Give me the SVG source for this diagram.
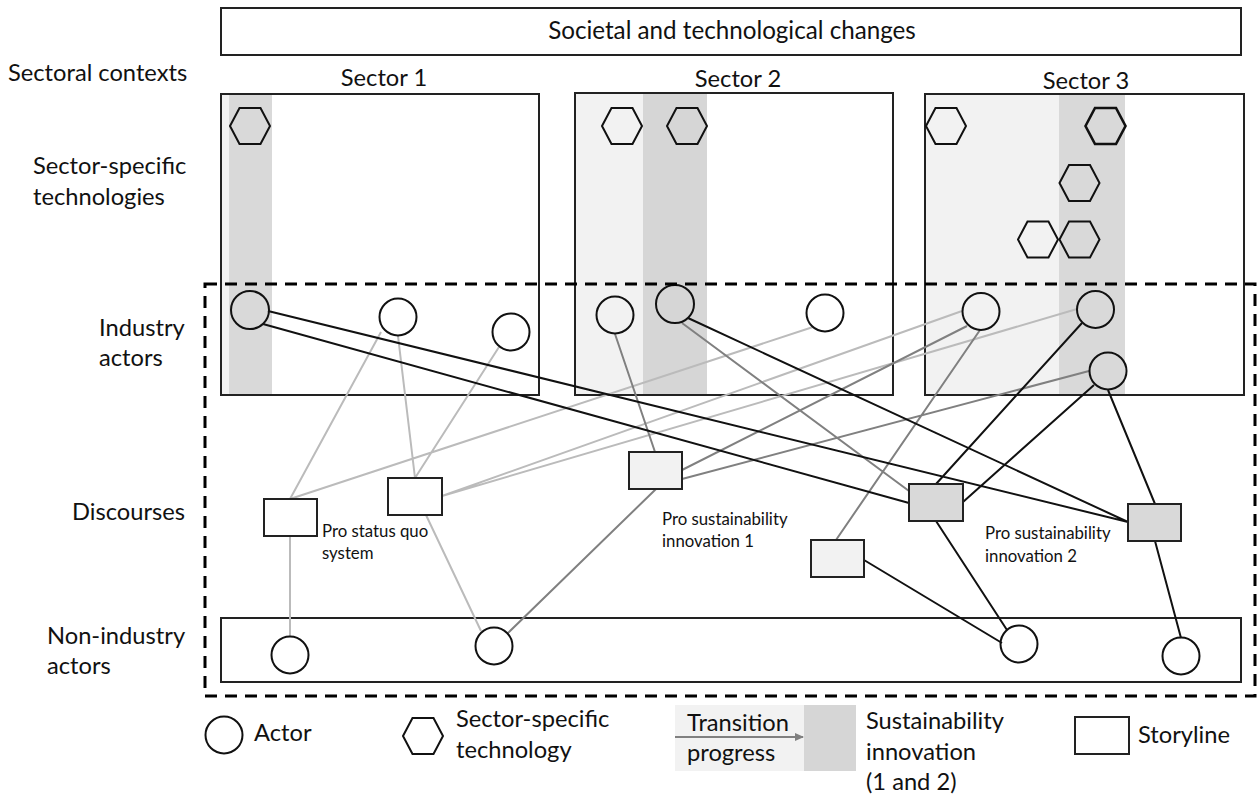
<svg xmlns="http://www.w3.org/2000/svg" width="1258" height="794" viewBox="0 0 1258 794">
<style>
text{font-family:"Lato","Liberation Sans",sans-serif;fill:#111}
.l{font-size:23.7px}
.s{font-size:16.800px}
.m{text-anchor:middle}
.box{fill:none;stroke:#222;stroke-width:2}
.a{fill:none;stroke:#111;stroke-width:2}
.h{fill:none;stroke:#111;stroke-width:2}
.st{stroke:#222;stroke-width:2}
.k{stroke:#111;stroke-width:2;fill:none}
.g{stroke:#808080;stroke-width:2;fill:none}
.y{stroke:#bbb;stroke-width:2;fill:none}
</style>
<defs>
<polygon id="hex" points="-20,0 -10.500,-18 10.500,-18 20,0 10.500,18 -10.500,18"/>
<marker id="arr" markerWidth="10" markerHeight="10" refX="8" refY="4" orient="auto" markerUnits="userSpaceOnUse"><path d="M0,0L9,4L0,8Z" fill="#808080"/></marker>
</defs>
<rect width="1258" height="794" fill="#fff"/>
<g id="bands">
<rect x="222" y="95" width="7" height="300" fill="#f2f2f2"/>
<rect x="229" y="95" width="43" height="300" fill="#d9d9d9"/>
<rect x="575" y="94" width="68" height="301" fill="#f2f2f2"/>
<rect x="643" y="94" width="64" height="301" fill="#d6d6d6"/>
<rect x="925" y="94" width="134" height="301" fill="#f2f2f2"/>
<rect x="1059" y="94" width="66" height="301" fill="#d9d9d9"/>
</g>
<g id="context"><rect class="box" x="221" y="8" width="1020" height="47"/>
<text class="m" style="font-size:24.200px" x="732" y="39">Societal and technological changes</text></g>
<g id="sector1"><rect class="box" x="221" y="94" width="318" height="301"/><text class="l m" x="384" y="86">Sector 1</text></g>
<g id="sector2"><rect class="box" x="575" y="93" width="318" height="302"/><text class="l m" x="738" y="87">Sector 2</text></g>
<g id="sector3"><rect class="box" x="925" y="94" width="319" height="301"/><text class="l m" x="1086" y="89">Sector 3</text></g>
<g id="nonindustry"><rect class="box" x="221" y="618" width="1020" height="64"/></g>
<g id="row-labels">
<text class="l" x="8" y="81">Sectoral contexts</text>
<text class="l" x="33" y="174">Sector-specific</text>
<text class="l" x="33" y="205">technologies</text>
<text class="l" x="99" y="336">Industry</text>
<text class="l" x="99" y="366">actors</text>
<text class="l" x="72" y="520">Discourses</text>
<text class="l" x="47" y="644">Non-industry</text>
<text class="l" x="47" y="674">actors</text>
</g>
<g id="connectors">
<path class="y" d="M381,332L290,499M398,336L415,478M499,347L415,478M290,499L813,327M442,496L962,311M442,496L1077,309M290,536V636M426,515L481,631"/>
<path class="g" d="M615,334L655,452M682,323L909,491M682,470L967,326M682,479L1089,371M656,489L508,633M836,540L980,330"/>
<path class="k" d="M268,311L1128,522M263,324L909,503M688,318L1128,522M1082,323L936,484M1094,385L963,502M1108,390L1155,504M1155,541L1181,638M936,521L1007,630M864,560L1002,643"/>
</g>
<g id="tech">
<use href="#hex" class="h" x="250" y="126"/>
<use href="#hex" class="h" x="622" y="126"/>
<use href="#hex" class="h" x="687" y="126"/>
<use href="#hex" class="h" x="946" y="126"/>
<use href="#hex" class="h" style="stroke-width:2.600" x="1105.500" y="126"/>
<use href="#hex" class="h" x="1079.500" y="183"/>
<use href="#hex" class="h" x="1038" y="239.500"/>
<use href="#hex" class="h" x="1079.500" y="239.500"/>
</g>
<g id="actors">
<circle class="a" cx="250" cy="310" r="19"/>
<circle class="a" cx="398" cy="317" r="18.500"/>
<circle class="a" cx="511" cy="332" r="18.500"/>
<circle class="a" cx="615" cy="315" r="18.500"/>
<circle class="a" cx="675" cy="304" r="19"/>
<circle class="a" cx="825" cy="313" r="18.500"/>
<circle class="a" cx="981" cy="311.500" r="18.500"/>
<circle class="a" cx="1095.500" cy="309.500" r="18.500"/>
<circle class="a" cx="1108" cy="371" r="18.500"/>
<circle class="a" cx="290" cy="655" r="18.500"/>
<circle class="a" cx="494" cy="646" r="18.500"/>
<circle class="a" cx="1019" cy="644" r="18.500"/>
<circle class="a" cx="1181" cy="656" r="18.500"/>
</g>
<g id="discourses">
<rect class="st" x="264" y="499" width="53" height="37" fill="#fff"/>
<rect class="st" x="388" y="478" width="54" height="37" fill="#fff"/>
<rect class="st" x="629" y="452" width="53" height="37" fill="#f2f2f2"/>
<rect class="st" x="909" y="484" width="54" height="37" fill="#d9d9d9"/>
<rect class="st" x="1128" y="504" width="53" height="37" fill="#d9d9d9"/>
<rect class="st" x="811" y="540" width="53" height="37" fill="#f2f2f2"/>
<text class="s" x="322" y="537">Pro status quo</text><text class="s" x="322" y="559">system</text>
<text class="s" x="662" y="525">Pro sustainability</text><text class="s" x="662" y="547">innovation 1</text>
<text class="s" x="985" y="539">Pro sustainability</text><text class="s" x="985" y="562">innovation 2</text>
</g>
<rect id="boundary" x="205" y="284" width="1050" height="412" fill="none" stroke="#000" stroke-width="3" stroke-dasharray="12,8"/>
<g id="legend">
<circle class="a" cx="224" cy="735" r="18.500"/><text class="l" x="254" y="741">Actor</text>
<use href="#hex" class="h" x="423" y="736"/>
<text class="l" x="456" y="727">Sector-specific</text><text class="l" x="456" y="758">technology</text>
<rect x="675" y="705" width="129" height="66" fill="#f2f2f2"/><rect x="804" y="705" width="52" height="66" fill="#d6d6d6"/>
<text class="l" x="687" y="731">Transition</text><text class="l" x="687" y="761">progress</text>
<line x1="675" y1="737" x2="803" y2="737" class="g" marker-end="url(#arr)"/>
<text class="l" x="866" y="729">Sustainability</text><text class="l" x="866" y="760">innovation</text><text class="l" x="866" y="790">(1 and 2)</text>
<rect class="st" x="1075" y="717" width="54" height="37" fill="#fff"/><text class="l" x="1138" y="743">Storyline</text>
</g>
</svg>
